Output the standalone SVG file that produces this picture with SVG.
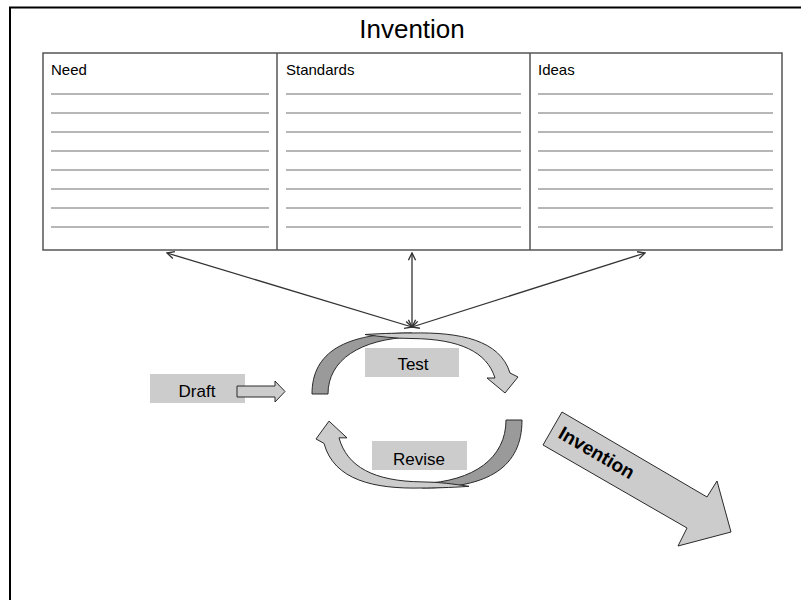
<svg xmlns="http://www.w3.org/2000/svg" width="801" height="600" viewBox="0 0 801 600">
<style>
text{font-family:"Liberation Sans",Arial,sans-serif;fill:#000}
.hdr{font-size:15px}
.lbl{font-size:17px;text-anchor:middle}
.rule{stroke:#6e6e6e;stroke-width:1}
.box{fill:#cccccc}
.tbl{fill:#fff;stroke:#555;stroke-width:1.5}
.light{fill:#cccccc;stroke:#2a2a2a;stroke-width:1}
.dark{fill:#9a9a9a;stroke:#2a2a2a;stroke-width:1}
.conn{stroke:#333;stroke-width:1.3;fill:none}
</style>
<defs>
<marker id="ah" viewBox="0 0 10 10" refX="9" refY="5" markerWidth="9" markerHeight="9" markerUnits="userSpaceOnUse" orient="auto-start-reverse">
<path d="M1,1 L9,5 L1,9" fill="none" stroke="#333" stroke-width="1.5"/>
</marker>
</defs>
<rect width="801" height="600" fill="#fff"/>
<g id="frame">
<path d="M10,600 L10,7.5 L801,7.5" fill="none" stroke="#000" stroke-width="2"/>
</g>
<g id="title">
<text x="412" y="38" style="font-size:26px" text-anchor="middle">Invention</text>
</g>
<g id="table">
<rect class="tbl" x="43" y="53" width="739" height="197"/>
<line x1="277" y1="53" x2="277" y2="250" stroke="#555" stroke-width="1.5"/>
<line x1="530" y1="53" x2="530" y2="250" stroke="#555" stroke-width="1.5"/>
</g>
<g id="col-need">
<text class="hdr" x="51" y="75">Need</text>
<g class="rule">
<line x1="51" y1="94" x2="269" y2="94"/><line x1="51" y1="113" x2="269" y2="113"/>
<line x1="51" y1="132" x2="269" y2="132"/><line x1="51" y1="151" x2="269" y2="151"/>
<line x1="51" y1="170" x2="269" y2="170"/><line x1="51" y1="189" x2="269" y2="189"/>
<line x1="51" y1="208" x2="269" y2="208"/><line x1="51" y1="227" x2="269" y2="227"/>
</g>
</g>
<g id="col-standards">
<text class="hdr" x="286" y="75">Standards</text>
<g class="rule">
<line x1="286" y1="94" x2="521" y2="94"/><line x1="286" y1="113" x2="521" y2="113"/>
<line x1="286" y1="132" x2="521" y2="132"/><line x1="286" y1="151" x2="521" y2="151"/>
<line x1="286" y1="170" x2="521" y2="170"/><line x1="286" y1="189" x2="521" y2="189"/>
<line x1="286" y1="208" x2="521" y2="208"/><line x1="286" y1="227" x2="521" y2="227"/>
</g>
</g>
<g id="col-ideas">
<text class="hdr" x="538" y="75">Ideas</text>
<g class="rule">
<line x1="538" y1="94" x2="773" y2="94"/><line x1="538" y1="113" x2="773" y2="113"/>
<line x1="538" y1="132" x2="773" y2="132"/><line x1="538" y1="151" x2="773" y2="151"/>
<line x1="538" y1="170" x2="773" y2="170"/><line x1="538" y1="189" x2="773" y2="189"/>
<line x1="538" y1="208" x2="773" y2="208"/><line x1="538" y1="227" x2="773" y2="227"/>
</g>
</g>
<g id="connectors">
<line class="conn" x1="412" y1="327" x2="167" y2="253" marker-start="url(#ah)" marker-end="url(#ah)"/>
<line class="conn" x1="412" y1="327" x2="412" y2="253" marker-start="url(#ah)" marker-end="url(#ah)"/>
<line class="conn" x1="412" y1="327" x2="645" y2="253" marker-start="url(#ah)" marker-end="url(#ah)"/>
</g>
<g id="test-arrow">
<path class="dark" d="M312,394 C312,352 345,333 412,333 L412,337 C360,339 328,360 328,394 Z"/>
<path class="light" d="M365,334.5 C385,333.3 400,333 412,333 C460,332 500,340 510,373 L518,377 L505,393 L487,378 L495,378 C487,352 460,339 412,338.5 C395,338.5 380,336.5 365,334.5 Z"/>
</g>
<g id="revise-arrow" transform="translate(514,420) scale(-1,-1.115) translate(-320,-394)">
<path class="dark" vector-effect="non-scaling-stroke" d="M312,394 C312,352 345,333 412,333 L412,337 C360,339 328,360 328,394 Z"/>
<path class="light" vector-effect="non-scaling-stroke" d="M365,334.5 C385,333.3 400,333 412,333 C460,332 500,340 510,373 L518,377 L505,393 L487,378 L495,378 C487,352 460,339 412,338.5 C395,338.5 380,336.5 365,334.5 Z"/>
</g>
<g id="test">
<rect class="box" x="365" y="348" width="94" height="29"/>
<text class="lbl" x="413" y="370">Test</text>
</g>
<g id="revise">
<rect class="box" x="372" y="441" width="95" height="29"/>
<text class="lbl" x="419" y="465">Revise</text>
</g>
<g id="draft">
<rect class="box" x="150" y="374" width="95" height="29"/>
<text class="lbl" x="197" y="397">Draft</text>
<path class="light" d="M237,386 L275,386 L275,381 L285,391.5 L275,402 L275,397 L237,397 Z"/>
</g>
<g id="invention-arrow">
<path class="light" d="M562,412 L707,497 L717,481 L731,532 L678,546 L687,528 L543,445 Z"/>
<text transform="translate(557,437) rotate(30.4)" style="font-size:19px;font-weight:bold">Invention</text>
</g>
</svg>
